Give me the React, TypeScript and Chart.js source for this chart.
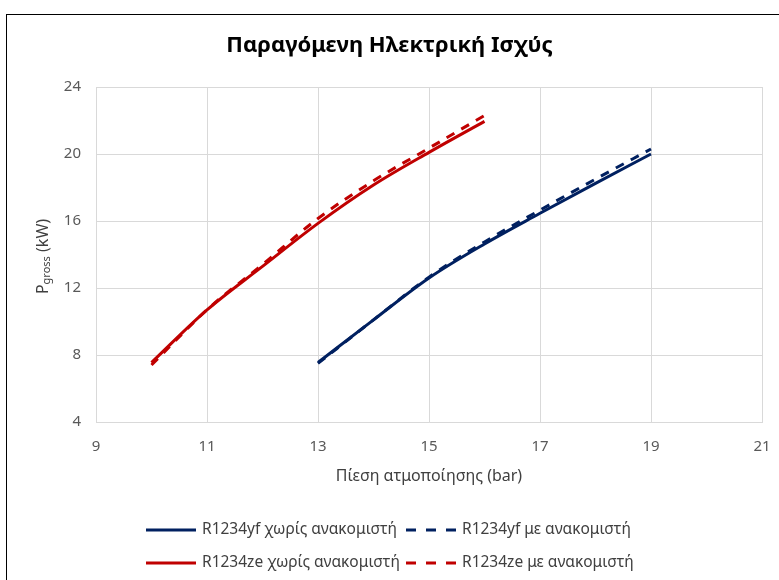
import React, { useEffect, useRef } from "react";
import { Chart, registerables } from "chart.js";

Chart.register(...registerables);

const chartTitle = "Παραγόμενη Ηλεκτρική Ισχύς";
const xAxisTitle = "Πίεση ατμοποίησης (bar)";
const yTitleMain = "P";
const yTitleSub = "gross";
const yTitleUnit = " (kW)";

const xRed = [10, 11, 12, 13, 14, 15, 16];
const redSolid = [7.55, 10.69, 13.29, 15.86, 18.15, 20.1, 21.95];
const redDashed = [7.4, 10.7, 13.4, 16.15, 18.4, 20.35, 22.3];

const xBlue = [13, 14, 15, 16, 17, 18, 19];
const blueSolid = [7.55, 10.1, 12.6, 14.63, 16.46, 18.25, 20.0];
const blueDashed = [7.5, 10.1, 12.65, 14.75, 16.65, 18.5, 20.3];

const seriesNames = [
  "R1234yf χωρίς ανακομιστή",
  "R1234yf με ανακομιστή",
  "R1234ze χωρίς ανακομιστή",
  "R1234ze με ανακομιστή",
];

const BLUE = "#002060";
const RED = "#c00000";
const FONT = "'Noto Sans', sans-serif";
const DASH = [9, 8];
const LEGEND_DASH = [10, 10];

const toPts = (xs: number[], ys: number[]) => xs.map((x, i) => ({ x, y: ys[i] }));

const yTitlePlugin = {
  id: "yTitleSub",
  afterDraw(chart: any) {
    const { ctx, chartArea } = chart;
    ctx.save();
    const cx = 43;
    const cy = (chartArea.top + chartArea.bottom) / 2 + 2;
    ctx.translate(cx, cy);
    ctx.rotate(-Math.PI / 2);
    ctx.fillStyle = "#404040";
    ctx.textBaseline = "middle";
    ctx.textAlign = "left";
    const big = `16px ${FONT}`;
    const small = `11px ${FONT}`;
    ctx.font = big;
    const wP = ctx.measureText(yTitleMain).width;
    const wU = ctx.measureText(yTitleUnit).width;
    ctx.font = small;
    const wG = ctx.measureText(yTitleSub).width;
    let x = -(wP + wG + wU) / 2;
    ctx.font = big;
    ctx.fillText(yTitleMain, x, 0);
    x += wP;
    ctx.font = small;
    ctx.fillText(yTitleSub, x, 4);
    x += wG;
    ctx.font = big;
    ctx.fillText(yTitleUnit, x, 0);
    ctx.restore();
  },
};

const legendPlugin = {
  id: "gridLegend",
  afterDraw(chart: any) {
    const { ctx } = chart;
    const cols = [146, 406];
    const rows = [530, 563];
    const order = [0, 1, 2, 3];
    ctx.save();
    order.forEach((di, k) => {
      const ds = chart.data.datasets[di];
      const x = cols[k % 2];
      const y = rows[Math.floor(k / 2)];
      ctx.beginPath();
      ctx.strokeStyle = ds.borderColor;
      ctx.lineWidth = 3;
      ctx.setLineDash(ds.borderDash ? LEGEND_DASH : []);
      ctx.moveTo(x, y);
      ctx.lineTo(x + 50, y);
      ctx.stroke();
      ctx.setLineDash([]);
      ctx.fillStyle = "#404040";
      ctx.font = `15.5px ${FONT}`;
      ctx.textBaseline = "middle";
      ctx.textAlign = "left";
      ctx.fillText(ds.label, x + 56, y);
    });
    ctx.restore();
  },
};

function ChartView() {
  const ref = useRef<HTMLCanvasElement | null>(null);
  useEffect(() => {
    if (!ref.current) return;
    const common = {
      borderWidth: 3,
      pointRadius: 0,
      cubicInterpolationMode: "monotone",
    };
    const chart = new Chart(ref.current, {
      type: "line",
      data: {
        datasets: [
          { ...common, label: seriesNames[0], data: toPts(xBlue, blueSolid), borderColor: BLUE, backgroundColor: BLUE },
          { ...common, label: seriesNames[1], data: toPts(xBlue, blueDashed), borderColor: BLUE, backgroundColor: BLUE, borderDash: DASH },
          { ...common, label: seriesNames[2], data: toPts(xRed, redSolid), borderColor: RED, backgroundColor: RED },
          { ...common, label: seriesNames[3], data: toPts(xRed, redDashed), borderColor: RED, backgroundColor: RED, borderDash: DASH },
        ],
      },
      options: {
        animation: false,
        responsive: false,
        maintainAspectRatio: false,
        layout: { padding: { top: 29, left: 17, right: 17, bottom: 88 } },
        plugins: {
          legend: { display: false },
          tooltip: { enabled: false },
          title: {
            display: true,
            text: chartTitle,
            color: "#000000",
            font: { family: FONT, size: 22, weight: "bold" },
            padding: { top: 4, bottom: 27.6 },
          },
        },
        scales: {
          x: {
            type: "linear",
            min: 9,
            max: 21,
            ticks: {
              stepSize: 2,
              color: "#595959",
              font: { family: FONT, size: 15 },
              padding: 16,
            },
            grid: { color: "#d9d9d9", lineWidth: 1, drawTicks: false },
            border: { color: "#d9d9d9" },
            title: {
              display: true,
              text: xAxisTitle,
              color: "#404040",
              font: { family: FONT, size: 16 },
              padding: { top: 0, bottom: 6 },
            },
            afterFit: (s: any) => {
              s.height = 70;
              s.paddingLeft = 0;
              s.paddingRight = 0;
            },
          },
          y: {
            min: 4,
            max: 24,
            ticks: {
              stepSize: 4,
              color: "#595959",
              font: { family: FONT, size: 15 },
              padding: 15,
            },
            grid: { color: "#d9d9d9", lineWidth: 1, drawTicks: false },
            border: { color: "#d9d9d9" },
            afterFit: (s: any) => {
              s.width = 79;
              s.paddingTop = 0;
              s.paddingBottom = 0;
            },
          },
        },
      },
      plugins: [yTitlePlugin, legendPlugin],
    } as any);
    return () => chart.destroy();
  }, []);
  return <canvas ref={ref} width={779} height={580} style={{ display: "block" }} />;
}

export default function App() {
  return (
    <div
      style={{
        position: "fixed",
        left: 0,
        top: 0,
        width: 779,
        height: 580,
        background: "#ffffff",
        overflow: "hidden",
      }}
    >
      <ChartView />
      <div
        style={{
          position: "absolute",
          left: 6,
          top: 14,
          width: 800,
          height: 700,
          borderTop: "1px solid #000000",
          borderLeft: "1px solid #000000",
          pointerEvents: "none",
        }}
      />
    </div>
  );
}
